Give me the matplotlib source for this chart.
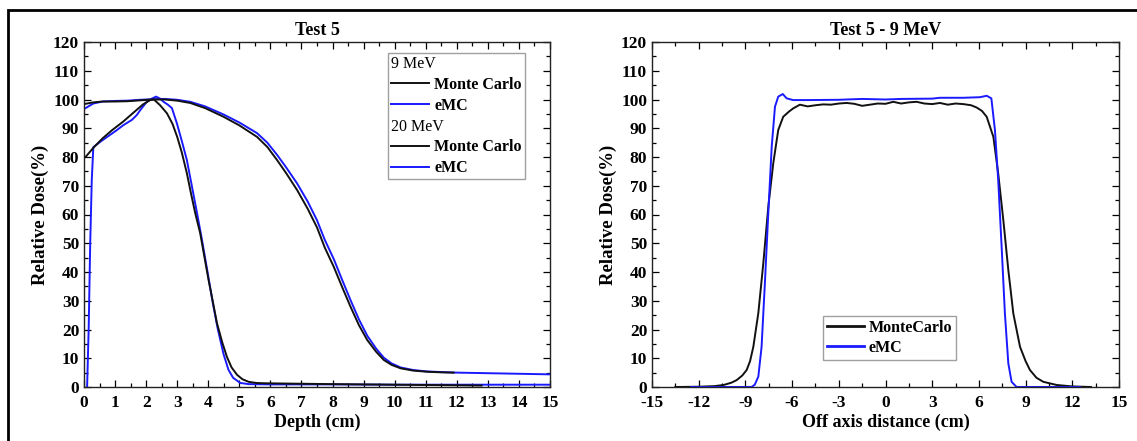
import matplotlib
matplotlib.use("Agg")
import matplotlib.pyplot as plt
from matplotlib.lines import Line2D
from matplotlib.patches import Rectangle
from matplotlib.ticker import MultipleLocator

plt.rcParams["font.family"] = ["Liberation Serif", "DejaVu Serif"]
plt.rcParams["font.weight"] = "bold"
plt.rcParams["axes.unicode_minus"] = False

BLUE = "#1a1aff"
BLACK = "#111111"

# ---- left panel: depth dose, Test 5 ----
depth_9_mc = [0.05, 0.3, 0.6, 0.9, 1.26, 1.6, 1.9, 2.13, 2.25, 2.45, 2.67, 2.85, 3.0, 3.15, 3.31,
              3.45, 3.58, 3.74, 3.88, 4.01, 4.15, 4.28, 4.45, 4.6, 4.75, 4.93, 5.1, 5.3, 5.55,
              5.8, 6.5, 8.0, 10.0, 12.0, 12.8]
dose_9_mc = [80.0, 83.2, 86.5, 89.3, 92.3, 95.5, 98.3, 99.8, 100.0, 98.0, 95.2, 91.5, 87.0, 81.5, 74.4,
             67.0, 60.5, 53.5, 45.0, 37.2, 29.5, 22.2, 15.5, 10.5, 6.8, 4.2, 2.7, 1.8, 1.4,
             1.3, 1.2, 1.0, 0.8, 0.6, 0.5]

depth_9_emc = [0.1, 0.15, 0.2, 0.25, 0.3, 0.55, 0.84, 1.05, 1.27, 1.54, 1.7, 1.81, 2.02, 2.2, 2.32,
               2.45, 2.56, 2.7, 2.83, 2.99, 3.15, 3.31, 3.47, 3.64, 3.8, 4.0, 4.15, 4.3, 4.49,
               4.65, 4.8, 5.03, 5.3, 6.0, 8.0, 10.0, 12.0, 15.0]
dose_9_emc = [0.0, 20.0, 50.0, 72.0, 83.4, 85.5, 87.7, 89.3, 91.1, 92.9, 94.6, 96.3, 99.2, 100.4, 101.0,
              100.3, 99.2, 98.2, 97.0, 91.7, 85.5, 79.0, 70.0, 60.4, 51.0, 38.5, 29.0, 20.5, 11.5,
              6.0, 3.2, 1.4, 1.0, 0.9, 0.9, 0.8, 0.8, 0.8]

depth_20_mc = [0.05, 0.3, 0.6, 1.0, 1.4, 1.8, 2.2, 2.6, 3.0, 3.42, 3.9, 4.49, 5.0, 5.57, 5.9, 6.21,
               6.5, 6.86, 7.2, 7.5, 7.75, 8.04, 8.3, 8.58, 8.85, 9.12, 9.4, 9.65, 9.9, 10.19,
               10.6, 11.05, 11.5, 11.9]
dose_20_mc = [98.5, 99.0, 99.3, 99.3, 99.4, 99.7, 100.0, 100.0, 99.6, 98.8, 97.0, 94.0, 91.0, 87.0,
              83.5, 79.0, 74.5, 68.5, 62.0, 55.5, 48.5, 41.8, 35.0, 27.9, 21.5, 16.3, 12.3, 9.4,
              7.7, 6.5, 5.7, 5.3, 5.1, 5.0]

depth_20_emc = [0.05, 0.3, 0.6, 1.0, 1.4, 1.8, 2.2, 2.6, 3.0, 3.42, 3.9, 4.49, 5.0, 5.57, 5.9, 6.21,
                6.5, 6.86, 7.2, 7.5, 7.75, 8.04, 8.3, 8.58, 8.85, 9.12, 9.4, 9.65, 9.9, 10.19,
                10.6, 11.05, 11.5, 12.0, 13.0, 14.0, 15.0]
dose_20_emc = [97.0, 98.6, 99.3, 99.5, 99.6, 99.9, 100.1, 100.2, 99.9, 99.2, 97.6, 94.8, 92.0, 88.3,
               85.0, 80.8, 76.5, 70.8, 64.5, 58.0, 51.2, 44.5, 37.5, 30.2, 23.5, 17.8, 13.4, 10.2,
               8.2, 6.8, 5.9, 5.4, 5.2, 5.0, 4.8, 4.6, 4.4]

# ---- right panel: profile, Test 5 - 9 MeV ----
off_mc = [-13.5, -12.0, -11.0, -10.4, -9.9, -9.56, -9.2, -8.92, -8.7, -8.49, -8.17, -7.85, -7.53,
          -7.21, -6.89, -6.57, -6.2, -5.93, -5.5, -5.0, -4.5, -4.0, -3.5, -3.0, -2.5, -2.0, -1.5,
          -1.0, -0.5, 0.0, 0.5, 1.0, 1.5, 2.0, 2.5, 3.0, 3.5, 4.0, 4.5, 5.0, 5.5, 5.86, 6.2,
          6.5, 6.93, 7.24, 7.57, 7.89, 8.21, 8.64, 9.0, 9.28, 9.7, 10.14, 11.0, 12.0, 13.2]
dose_mc = [0.0, 0.1, 0.3, 0.7, 1.5, 2.4, 4.0, 5.9, 9.0, 14.0, 25.7, 43.0, 62.7,
           77.8, 89.4, 94.0, 95.8, 96.9, 98.2, 97.6, 98.0, 98.3, 98.2, 98.6, 98.8, 98.5, 97.8,
           98.2, 98.6, 98.5, 99.2, 98.6, 99.0, 99.2, 98.6, 98.4, 98.8, 98.2, 98.6, 98.4, 98.0, 97.2, 96.0,
           94.0, 87.0, 74.3, 58.0, 40.7, 25.6, 14.0, 9.0, 5.9, 3.2, 1.8, 0.7, 0.2, 0.0]

off_emc = [-12.5, -10.0, -8.6, -8.4, -8.17, -7.96, -7.74, -7.53, -7.31, -7.1, -6.89, -6.6, -6.35,
           -5.93, -5.0, -3.0, -1.5, 0.0, 1.0, 3.0, 3.5, 5.0, 6.07, 6.5, 6.8, 7.03, 7.24, 7.46,
           7.67, 7.89, 8.1, 8.42, 10.0, 12.5]
dose_emc = [0.0, 0.0, 0.0, 0.8, 3.6, 14.0, 37.0, 60.4, 83.6, 97.5, 101.0, 101.9, 100.4,
            99.8, 99.8, 99.9, 100.2, 100.0, 100.2, 100.3, 100.6, 100.6, 100.8, 101.3, 100.4, 89.4, 72.0, 48.8,
            25.6, 8.2, 1.8, 0.0, 0.0, 0.0]

W, H = 1137, 441
fig = plt.figure(figsize=(W / 100, H / 100), dpi=100)
ax1 = fig.add_axes([84 / W, 1 - 387 / H, 466 / W, 345 / H])
ax2 = fig.add_axes([652 / W, 1 - 387 / H, 467 / W, 345 / H])

LW = 1.4
ax1.plot(depth_9_mc, dose_9_mc, color=BLACK, lw=LW, zorder=3)
ax1.plot(depth_9_emc, dose_9_emc, color=BLUE, lw=LW, zorder=2)
ax1.plot(depth_20_emc, dose_20_emc, color=BLUE, lw=LW, zorder=2)
ax1.plot(depth_20_mc, dose_20_mc, color=BLACK, lw=LW, zorder=3)

ax2.plot(off_mc, dose_mc, color=BLACK, lw=LW, label="MonteCarlo")
ax2.plot(off_emc, dose_emc, color=BLUE, lw=LW, label="eMC")

FS = 12.5
for ax in (ax1, ax2):
    ax.set_ylim(0, 120)
    ax.yaxis.set_major_locator(MultipleLocator(10))
    ax.yaxis.set_minor_locator(MultipleLocator(5))
    ax.tick_params(which="both", direction="in", top=True, right=True,
                   labelsize=FS, width=0.9)
    ax.tick_params(which="major", length=5)
    ax.tick_params(which="minor", length=3)
    ax.tick_params(axis="x", pad=6)
    for sp in ax.spines.values():
        sp.set_linewidth(1.0)
        sp.set_color("#222222")
    ax.set_ylabel("Relative Dose(%)", fontsize=13.5, fontweight="bold", labelpad=3)

ax1.set_xlim(0, 15)
ax1.xaxis.set_major_locator(MultipleLocator(1))
ax1.xaxis.set_minor_locator(MultipleLocator(0.5))
ax1.set_xlabel("Depth (cm)", fontsize=13, fontweight="bold", labelpad=2)
ax1.set_title("Test 5", fontsize=13, fontweight="bold", pad=5)

ax2.set_xlim(-15, 15)
ax2.xaxis.set_major_locator(MultipleLocator(3))
ax2.xaxis.set_minor_locator(MultipleLocator(1.5))
ax2.set_xlabel("Off axis distance (cm)", fontsize=13, fontweight="bold", labelpad=2)
ax2.set_title("Test 5 - 9 MeV", fontsize=13, fontweight="bold", pad=5)

# legend of left panel with energy headers
headers = ["9 MeV", "20 MeV"]
handles = [
    Line2D([], [], color="none"),
    Line2D([], [], color=BLACK, lw=LW),
    Line2D([], [], color=BLUE, lw=LW),
    Line2D([], [], color="none"),
    Line2D([], [], color=BLACK, lw=LW),
    Line2D([], [], color=BLUE, lw=LW),
]
labels = ["9 MeV", "Monte Carlo", "eMC", "20 MeV", "Monte Carlo", "eMC"]
leg = ax1.legend(handles, labels, loc="upper left", bbox_to_anchor=(0.652, 0.968),
                 fontsize=11.5, frameon=True, fancybox=False, handlelength=2.4,
                 handletextpad=0.3, labelspacing=0.3, borderpad=0.2,
                 borderaxespad=0)
leg.get_frame().set_edgecolor("#888888")
leg.get_frame().set_linewidth(1.0)
for t in leg.get_texts():
    if t.get_text() in headers:
        t.set_fontweight("normal")
for col in leg._legend_handle_box.get_children():
    for row in col.get_children():
        da, ta = row.get_children()
        if ta._text.get_text() in headers:
            da.width = 0
            row.sep = 0

leg2 = ax2.legend(loc="upper left", bbox_to_anchor=(0.366, 0.206), fontsize=11.5,
                  frameon=True, fancybox=False, handlelength=2.3, handletextpad=0.3,
                  labelspacing=0.25, borderpad=0.25, borderaxespad=0)
leg2.get_frame().set_edgecolor("#888888")
leg2.get_frame().set_linewidth(1.0)
for line in leg2.get_lines():
    line.set_linewidth(2.0)

# outer frame (top and left edges visible)
fig.add_artist(Rectangle((8 / W, -0.1), 1.2, 1.1 - 10 / H, transform=fig.transFigure,
                         fill=False, edgecolor="black", linewidth=2.0))

fig.savefig("out.png", dpi=100)
